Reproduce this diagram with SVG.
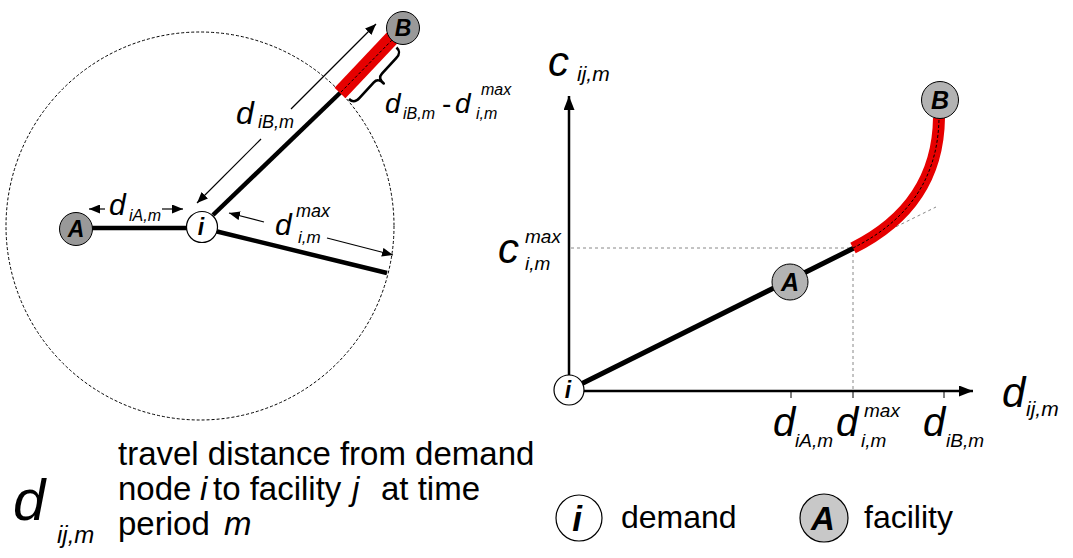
<svg xmlns="http://www.w3.org/2000/svg" width="1073" height="558" viewBox="0 0 1073 558">
<defs>
<style>
.t{font-family:"Liberation Sans",Arial,sans-serif;fill:#000}
.it{font-style:italic}
.nl{font-family:"Liberation Sans",Arial,sans-serif;font-style:italic;font-weight:bold;text-anchor:middle;fill:#000}
.thick{stroke:#000;stroke-width:4.5;fill:none}
.thin{stroke:#000;stroke-width:1.2;fill:none}
.dash{stroke:#000;stroke-width:1;stroke-dasharray:3 2;fill:none}
.gdash{stroke:#888;stroke-width:1;stroke-dasharray:3 3;fill:none}
.red{stroke:#e60000;fill:none}
</style>
<marker id="ah" markerUnits="userSpaceOnUse" markerWidth="11" markerHeight="9" refX="11" refY="4.5" orient="auto">
<path d="M0,0 L11,4.5 L0,9 z" fill="#000"/>
</marker>
<marker id="axh" markerUnits="userSpaceOnUse" markerWidth="14" markerHeight="11" refX="14" refY="5.5" orient="auto">
<path d="M0,0 L14,5.5 L0,11 z" fill="#000"/>
</marker>
</defs>
<rect width="1073" height="558" fill="#fff"/>

<!-- LEFT DIAGRAM -->
<circle cx="200" cy="226" r="194" class="dash"/>

<g id="connectors">
<line x1="76" y1="228" x2="202" y2="228" class="thick"/>
<line x1="215" y1="231" x2="387" y2="273" class="thick"/>
<line x1="213" y1="215" x2="341" y2="92" class="thick"/>
<line x1="340" y1="93" x2="392" y2="38" class="red" stroke-width="15"/>
<line x1="341" y1="92" x2="397" y2="35" class="dash"/>
<!-- dimension arrows -->
<line x1="291" y1="109" x2="376" y2="24" class="thin" marker-end="url(#ah)"/>
<line x1="261" y1="139" x2="197" y2="203" class="thin" marker-end="url(#ah)"/>
<line x1="105" y1="209" x2="89" y2="209" class="thin" marker-end="url(#ah)"/>
<line x1="162" y1="209" x2="183" y2="209" class="thin" marker-end="url(#ah)"/>
<line x1="264" y1="222" x2="229" y2="213" class="thin" marker-end="url(#ah)"/>
<line x1="327" y1="238" x2="393" y2="255" class="thin" marker-end="url(#ah)"/>
<!-- brace -->
<path transform="translate(349,99) rotate(-47.3)" d="M0,0 C0,5 2,7 8,7 L29,7 C34,7 35,10 35,15 C35,10 36,7 41,7 L62,7 C68,7 70,5 70,0" stroke="#000" stroke-width="2.6" fill="none" stroke-linejoin="round"/>

<!-- RIGHT GRAPH -->
<line x1="569" y1="391" x2="569" y2="96" stroke="#000" stroke-width="2.5" marker-end="url(#axh)"/>
<line x1="569" y1="391" x2="973" y2="391" stroke="#000" stroke-width="2.5" marker-end="url(#axh)"/>
<line x1="571" y1="248" x2="853" y2="248" class="gdash"/>
<line x1="853" y1="248" x2="853" y2="391" class="gdash"/>
<line x1="853" y1="248" x2="936" y2="207" class="gdash"/>
<line x1="791" y1="391" x2="791" y2="398" stroke="#000" stroke-width="1"/>
<line x1="853" y1="391" x2="853" y2="398" stroke="#000" stroke-width="1"/>
<line x1="944" y1="391" x2="944" y2="398" stroke="#000" stroke-width="1"/>
<line x1="569" y1="390" x2="854" y2="248" stroke="#000" stroke-width="5"/>
<path d="M853,248 C895,227 938,190 939,118" class="red" stroke-width="12"/>
<path d="M853,248 C895,227 938,190 939,118" class="dash"/>
</g>

<!-- left nodes -->
<g id="node-A-left"><circle cx="76" cy="229" r="16.5" fill="#999" stroke="#000" stroke-width="1"/><text x="76" y="237" class="nl" font-size="23">A</text></g>
<g id="node-i-left"><circle cx="202" cy="227" r="15.5" fill="#fff" stroke="#000" stroke-width="1.2"/><text x="201" y="235" class="nl" font-size="23">i</text></g>
<g id="node-B-left"><circle cx="403" cy="28" r="16.5" fill="#999" stroke="#000" stroke-width="1"/><text x="403" y="36" class="nl" font-size="23">B</text></g>

<!-- left labels -->
<g id="lbl-diB">
<text x="236" y="124" class="t it" font-size="32">d</text>
<text x="258" y="128" class="t it" font-size="18">iB,m</text>
</g>
<g id="lbl-diA">
<text x="109" y="215" class="t it" font-size="30">d</text>
<text x="129" y="221" class="t it" font-size="16">iA,m</text>
</g>
<g id="lbl-dmax">
<text x="275" y="235" class="t it" font-size="30">d</text>
<text x="296" y="217" class="t it" font-size="18">max</text>
<text x="298" y="243" class="t it" font-size="17">i,m</text>
</g>
<g id="lbl-diff">
<text x="385" y="113" class="t it" font-size="28">d</text>
<text x="403" y="119" class="t it" font-size="16">iB,m</text>
<text x="442" y="113" class="t" font-size="28">-</text>
<text x="455" y="113" class="t it" font-size="28">d</text>
<text x="481" y="95" class="t it" font-size="16">max</text>
<text x="476" y="119" class="t it" font-size="16">i,m</text>
</g>

<!-- right nodes -->
<g id="node-i-right"><circle cx="569" cy="390" r="15" fill="#fff" stroke="#000" stroke-width="1.2"/><text x="568" y="398" class="nl" font-size="23">i</text></g>
<g id="node-A-right"><circle cx="790" cy="282" r="18" fill="#b3b3b3" stroke="#000" stroke-width="1"/><text x="790" y="291" class="nl" font-size="25">A</text></g>
<g id="node-B-right"><circle cx="940" cy="100" r="18.5" fill="#b3b3b3" stroke="#000" stroke-width="1"/><text x="940" y="109" class="nl" font-size="25">B</text></g>

<!-- axis labels -->
<g id="lbl-c">
<text x="548" y="76" class="t it" font-size="42">c</text>
<text x="577" y="81" class="t it" font-size="21">ij,m</text>
</g>
<g id="lbl-cmax">
<text x="498" y="263" class="t it" font-size="42">c</text>
<text x="525" y="243" class="t it" font-size="19">max</text>
<text x="525" y="270" class="t it" font-size="19">i,m</text>
</g>
<g id="lbl-dij">
<text x="1002" y="407" class="t it" font-size="42">d</text>
<text x="1026" y="416" class="t it" font-size="21">ij,m</text>
</g>
<g id="lbl-ticks">
<text x="773" y="436" class="t it" font-size="40">d</text>
<text x="795" y="447" class="t it" font-size="19">iA,m</text>
<text x="836" y="436" class="t it" font-size="40">d</text>
<text x="864" y="417" class="t it" font-size="19">max</text>
<text x="861" y="447" class="t it" font-size="19">i,m</text>
<text x="923" y="436" class="t it" font-size="40">d</text>
<text x="946" y="447" class="t it" font-size="19">iB,m</text>
</g>

<!-- legend -->
<g id="legend-d">
<text x="13" y="520" class="t it" font-size="58">d</text>
<text x="57" y="543" class="t it" font-size="24">ij,m</text>
<text x="118" y="465" class="t" font-size="33">travel distance from demand</text>
<text y="500" class="t" font-size="33"><tspan x="118">node</tspan><tspan x="200" class="it">i</tspan><tspan x="213">to facility</tspan><tspan x="352" class="it">j</tspan><tspan x="381">at time</tspan></text>
<text y="535" class="t" font-size="33"><tspan x="118">period</tspan><tspan x="224" class="it">m</tspan></text>
</g>
<g id="legend-demand"><circle cx="579" cy="518" r="23" fill="#fff" stroke="#000" stroke-width="1.2"/><text x="577" y="531" class="nl" font-size="35">i</text><text x="621" y="528" class="t" font-size="32">demand</text></g>
<g id="legend-facility"><circle cx="824" cy="518" r="24" fill="#c8c8c8" stroke="#000" stroke-width="1.2"/><text x="823" y="530" class="nl" font-size="33">A</text><text x="864" y="528" class="t" font-size="32">facility</text></g>
</svg>
